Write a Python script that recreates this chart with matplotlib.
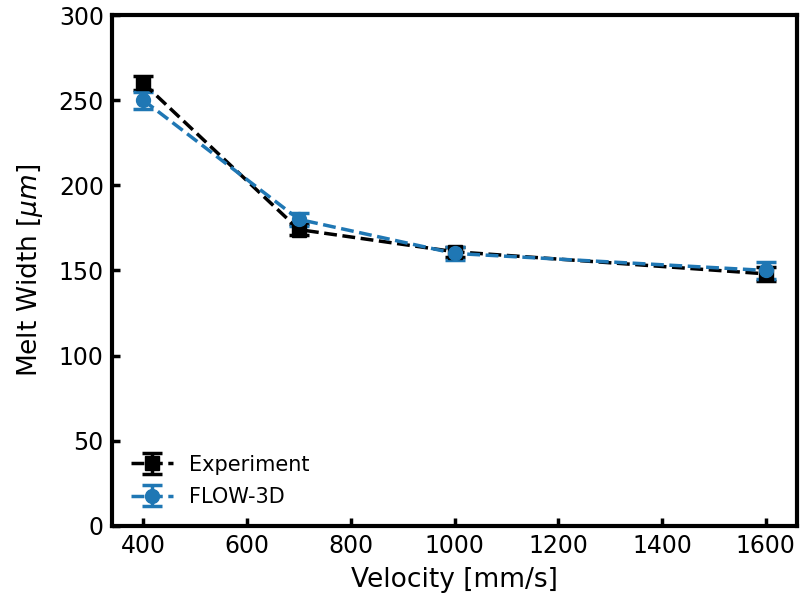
import numpy as np
import matplotlib.pyplot as plt

velocity = [400, 700, 1000, 1600]
exp_width = [260, 174, 161, 148]
exp_err = [4, 3, 3, 4]
sim_width = [250, 180, 160, 150]
sim_err = [5, 4, 4, 5]

fig, ax = plt.subplots(figsize=(8.01, 6.01), dpi=100)

ax.errorbar(velocity, exp_width, yerr=exp_err, fmt='s--', color='black',
            markersize=10, linewidth=2.5, elinewidth=2.5, capsize=7, capthick=2.5,
            label='Experiment')
ax.errorbar(velocity, sim_width, yerr=sim_err, fmt='o--', color='tab:blue',
            markersize=10, linewidth=2.5, elinewidth=2.5, capsize=7, capthick=2.5,
            label='FLOW-3D')

ax.set_ylim(0, 300)
ax.set_xlabel('Velocity [mm/s]', fontsize=19, labelpad=6)
ax.set_ylabel(r'Melt Width [$\mu m$]', fontsize=19, labelpad=10)
ax.tick_params(direction='in', width=2.5, length=6, labelsize=17, pad=6)
for s in ax.spines.values():
    s.set_linewidth(3)
ax.legend(loc='lower left', frameon=False, fontsize=15, labelspacing=0.6)

fig.subplots_adjust(left=0.14, right=0.995, top=0.975, bottom=0.125)
fig.savefig('out.png')
